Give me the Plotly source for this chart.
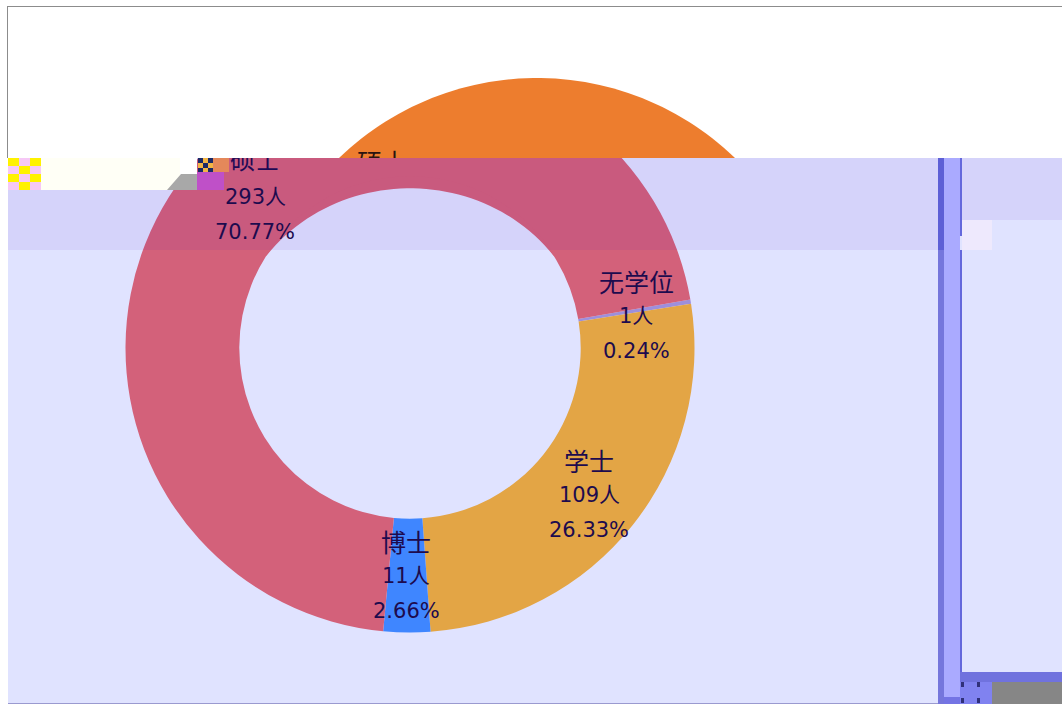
import numpy as np
import plotly.graph_objects as go

W, H = 1062, 704

# chart data
categories = ["无学位", "学士", "博士", "硕士"]
people = [1, 109, 11, 293]
percents = ["0.24%", "26.33%", "2.66%", "70.77%"]
slice_colors = ["#9d8fdc", "#e3a545", "#3f86ff", "#d3617a"]

# label centres in px (first line of each label)
label_x = [636, 589, 406, 255]
label_y = [281, 460, 541, 162]
line_gap = 35

BG = "#e0e3ff"
BAND = "rgba(70,0,180,0.07)"
TEXT = "#1d0b4e"
FONT = "Noto Sans CJK SC"
NUM_FONT = "DejaVu Sans, Noto Sans CJK SC"


def px(x):
    return x / W


def py(y):
    return 1 - y / H


def rect(x0, y0, x1, y1, color, layer="above", **kw):
    return dict(type="rect", xref="paper", yref="paper", x0=px(x0), x1=px(x1),
                y0=py(y0), y1=py(y1), fillcolor=color, line_width=0, layer=layer, **kw)


def poly(xs, ys):
    return "M" + " L".join(f"{px(a):.5f},{py(b):.5f}" for a, b in zip(xs, ys)) + " Z"


fig = go.Figure()

# the doughnut itself
cx, cy, R = 410, 348, 284.5
hole = 0.6
fig.add_trace(go.Pie(
    labels=categories,
    values=people,
    sort=False,
    direction="clockwise",
    rotation=80.2,
    hole=hole,
    textinfo="none",
    showlegend=False,
    marker=dict(colors=slice_colors, line=dict(width=0)),
    domain=dict(x=[px(cx - R), px(cx + R)], y=[py(cy + R), py(cy - R)]),
))

shapes = []

# lavender page behind the pie
shapes.append(rect(8, 158, W, 704, BG, layer="below"))

# top line of the 硕士 label, cut off by the white strip drawn after it
shapes.append(dict(type="rect", xref="paper", yref="paper",
                   x0=px(label_x[3] - 40), x1=px(label_x[3] + 40),
                   y0=py(label_y[3] + 15), y1=py(label_y[3] - 15),
                   fillcolor="rgba(0,0,0,0)", line_width=0, layer="above",
                   label=dict(text=categories[3], font=dict(family=FONT, size=25, color=TEXT),
                              textposition="middle center")))

# white strip on top and the broken bit on the left
shapes.append(rect(0, 0, W, 158, "#ffffff"))
shapes.append(rect(0, 158, 8, 704, "#ffffff"))
shapes.append(rect(8, 158, 197, 190, "#ffffff"))
shapes.append(rect(40, 158, 180, 190, "#fffff6"))
shapes.append(rect(7, 6, W, 7, "#8c8c8c"))
shapes.append(rect(7, 6, 8, 158, "#8c8c8c"))

# orange cap left from the older frame
ox, oy, oR = 537, 363, 285
half = np.arccos((oy - 158) / oR)
angles = np.linspace(-half, half, 60)
shapes.append(dict(type="path", xref="paper", yref="paper",
                   path=poly(ox + oR * np.sin(angles), oy - oR * np.cos(angles)),
                   fillcolor="#ed7d2e", line_width=0, layer="above"))
shapes.append(dict(type="rect", xref="paper", yref="paper", x0=px(340), x1=px(424),
                   y0=py(180), y1=py(150), fillcolor="rgba(0,0,0,0)", line_width=0,
                   layer="above",
                   label=dict(text=categories[3], font=dict(family=FONT, size=25, color="#2a1410"),
                              textposition="middle center")))
shapes.append(rect(345, 158, 420, 184, slice_colors[3]))

# the hole of the reference sits a bit lower than the ring, fill the crescent on top
a = np.linspace(-1.0, 1.0, 50)
in_r = R * hole
thick = 11 * np.cos(a * np.pi / 2)
hx = np.r_[cx + (in_r + 1) * np.sin(a), cx + (in_r - thick[::-1]) * np.sin(a[::-1])]
hy = np.r_[cy - (in_r + 1) * np.cos(a), cy - (in_r - thick[::-1]) * np.cos(a[::-1])]
shapes.append(dict(type="path", xref="paper", yref="paper", path=poly(hx, hy),
                   fillcolor=slice_colors[3], line_width=0, layer="above"))

# darker band across the top of the chart
shapes.append(rect(197, 158, 938, 190, BAND))
shapes.append(rect(8, 190, 938, 250, BAND))
shapes.append(rect(962, 158, W, 220, BAND))
shapes.append(rect(962, 220, 992, 250, "rgba(255,240,250,0.45)"))

# noise blocks at the left end of the strip
for i in range(3):
    for j in range(4):
        col = "#fff200" if (i + j) % 2 == 0 else "#f6c8f6"
        shapes.append(rect(8 + i * 11, 158 + j * 8, 19 + i * 11, 166 + j * 8, col))
for i in range(3):
    for j in range(3):
        col = "#1b2a66" if (i + j) % 2 == 0 else "#f2b544"
        shapes.append(rect(198 + i * 5, 158 + j * 5, 203 + i * 5, 163 + j * 5, col))
shapes.append(rect(213, 158, 229, 172, "#e4885a"))
shapes.append(rect(197, 172, 224, 190, "#bf50c8"))
shapes.append(dict(type="path", xref="paper", yref="paper", layer="above", line_width=0,
                   fillcolor="#a8a8a8",
                   path=f"M{px(167)},{py(190)} L{px(181)},{py(174)} L{px(197)},{py(174)} "
                        f"L{px(197)},{py(190)} Z"))

# right hand columns
shapes.append(rect(938, 158, 944, 704, "#5d5fd6"))
shapes.append(rect(944, 158, 960, 704, "#aaaaff"))
shapes.append(rect(960, 158, 962, 236, "#6468dc"))
shapes.append(rect(938, 250, 944, 704, "rgba(255,255,255,0.15)"))
shapes.append(rect(960, 250, 962, 672, "#6468dc"))
shapes.append(rect(944, 697, 960, 704, "#7474e4"))

# bottom right corner
shapes.append(rect(960, 672, W, 682, "#7072de"))
shapes.append(rect(960, 682, 992, 704, "#8082f0"))
shapes.append(rect(992, 682, W, 704, "#868686"))
for dx in (961, 977):
    for dy in (682, 698):
        shapes.append(rect(dx, dy, dx + 3, dy + 5, "#30307a"))

# thin line closing the page at the bottom
shapes.append(rect(8, 703, 938, 704, "#9a9ad0"))

annotations = []
for i, cat in enumerate(categories):
    lines = [cat, f"{people[i]}人", percents[i]]
    for k, line in enumerate(lines):
        # first line of 硕士 is a clipped shape label instead
        if i == 3 and k == 0:
            continue
        annotations.append(dict(x=px(label_x[i]), y=py(label_y[i] + k * line_gap),
                                xref="paper", yref="paper", text=line, showarrow=False,
                                xanchor="center", yanchor="middle",
                                font=dict(family=FONT if k == 0 else NUM_FONT,
                                          size=25 if k == 0 else 21, color=TEXT)))

fig.update_layout(
    width=W,
    height=H,
    margin=dict(l=0, r=0, t=0, b=0),
    paper_bgcolor="#ffffff",
    plot_bgcolor="#ffffff",
    shapes=shapes,
    annotations=annotations,
)

fig.write_html("out.html", config={"displayModeBar": False},
               post_script="document.body.style.margin='0';")
